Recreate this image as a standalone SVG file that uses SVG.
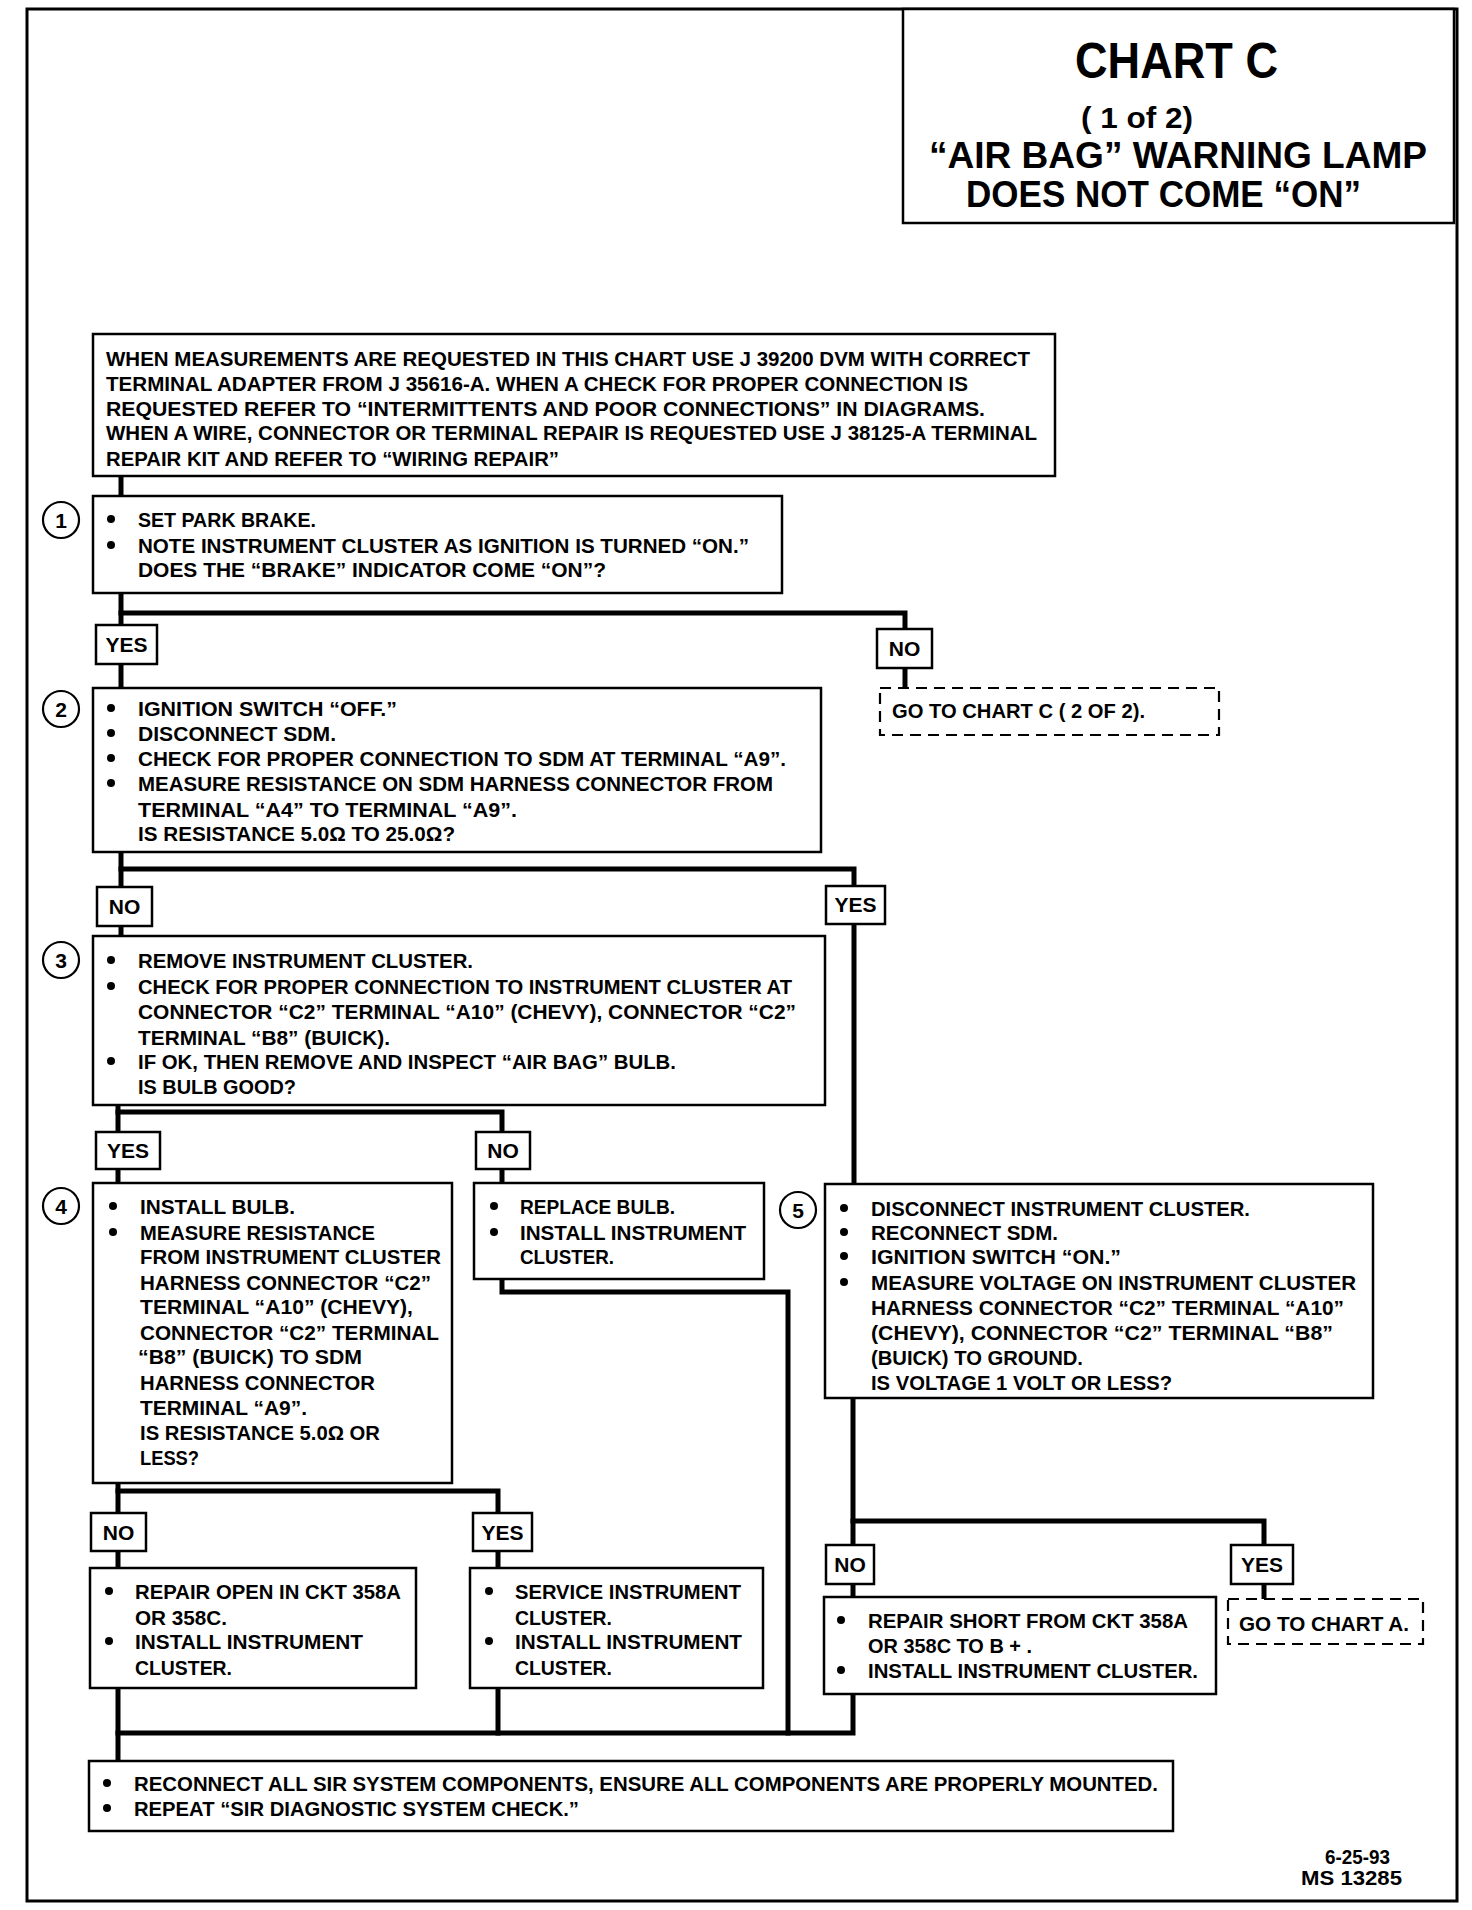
<svg xmlns="http://www.w3.org/2000/svg" width="1472" height="1910" viewBox="0 0 1472 1910">
<style>
.bg{fill:#fff}
.frame{fill:none;stroke:#000;stroke-width:3}
.box{fill:#fff;stroke:#000;stroke-width:2.5}
.dash{fill:#fff;stroke:#000;stroke-width:2.2;stroke-dasharray:11 7}
.conn{fill:none;stroke:#000;stroke-width:5;stroke-linecap:square;stroke-linejoin:miter}
.t{font-family:"Liberation Sans",Arial,sans-serif;font-weight:bold;font-size:21px;fill:#000}
.lbl{font-family:"Liberation Sans",Arial,sans-serif;font-weight:bold;font-size:21px;fill:#000;text-anchor:middle}
.num{font-family:"Liberation Sans",Arial,sans-serif;font-weight:bold;font-size:21px;fill:#000;text-anchor:middle}
.circ{fill:#fff;stroke:#000;stroke-width:2.2}
.dot{fill:#000}
.title{font-family:"Liberation Sans",Arial,sans-serif;font-weight:bold;fill:#000}
</style>
<rect class="bg" x="0" y="0" width="1472" height="1910"/>
<rect class="frame" x="27" y="9" width="1430" height="1892"/>

<g id="title">
<rect class="box" x="903" y="9" width="551" height="214"/>
<text class="title" x="1075" y="78" font-size="50" textLength="203" lengthAdjust="spacingAndGlyphs">CHART C</text>
<text class="title" x="1081" y="128" font-size="30" textLength="112" lengthAdjust="spacingAndGlyphs">( 1 of 2)</text>
<text class="title" x="929" y="168" font-size="37" textLength="498" lengthAdjust="spacingAndGlyphs">“AIR BAG” WARNING LAMP</text>
<text class="title" x="966" y="207" font-size="37" textLength="395" lengthAdjust="spacingAndGlyphs">DOES NOT COME “ON”</text>
</g>

<g id="connectors">
<path class="conn" d="M121 476 V496"/>
<path class="conn" d="M121 593 V625"/>
<path class="conn" d="M121 613 H905 V629"/>
<path class="conn" d="M121 664 V688"/>
<path class="conn" d="M905 668 V688"/>
<path class="conn" d="M121 852 V887"/>
<path class="conn" d="M121 869 H854 V886"/>
<path class="conn" d="M121 926 V936"/>
<path class="conn" d="M854 924 V1184"/>
<path class="conn" d="M118 1105 V1132"/>
<path class="conn" d="M118 1112 H502 V1132"/>
<path class="conn" d="M118 1169 V1183"/>
<path class="conn" d="M502 1169 V1183"/>
<path class="conn" d="M502 1279 V1292 H788 V1733"/>
<path class="conn" d="M118 1483 V1513"/>
<path class="conn" d="M118 1491 H498 V1513"/>
<path class="conn" d="M118 1551 V1568"/>
<path class="conn" d="M498 1551 V1568"/>
<path class="conn" d="M853 1398 V1545"/>
<path class="conn" d="M853 1521 H1264 V1545"/>
<path class="conn" d="M853 1584 V1597"/>
<path class="conn" d="M1264 1584 V1599"/>
<path class="conn" d="M853 1694 V1733 H118"/>
<path class="conn" d="M118 1688 V1761"/>
<path class="conn" d="M498 1688 V1733"/>
</g>

<g id="intro">
<rect class="box" x="93" y="334" width="962" height="142"/>
<text class="t" x="106" y="366" textLength="924" lengthAdjust="spacingAndGlyphs">WHEN MEASUREMENTS ARE REQUESTED IN THIS CHART USE J 39200 DVM WITH CORRECT</text>
<text class="t" x="106" y="391" textLength="862" lengthAdjust="spacingAndGlyphs">TERMINAL ADAPTER FROM J 35616-A.  WHEN A CHECK FOR PROPER CONNECTION IS</text>
<text class="t" x="106" y="416" textLength="879" lengthAdjust="spacingAndGlyphs">REQUESTED REFER TO “INTERMITTENTS AND POOR CONNECTIONS” IN  DIAGRAMS.</text>
<text class="t" x="106" y="440" textLength="931" lengthAdjust="spacingAndGlyphs">WHEN A WIRE, CONNECTOR OR TERMINAL REPAIR IS REQUESTED USE J 38125-A TERMINAL</text>
<text class="t" x="106" y="466" textLength="453" lengthAdjust="spacingAndGlyphs">REPAIR KIT AND REFER TO “WIRING REPAIR”</text>
</g>

<g id="step1">
<circle class="circ" cx="61" cy="520" r="18"/>
<text class="num" x="61" y="528">1</text>
<rect class="box" x="93" y="496" width="689" height="97"/>
<circle class="dot" cx="111" cy="519" r="4"/>
<circle class="dot" cx="111" cy="545" r="4"/>
<text class="t" x="138" y="527" textLength="178" lengthAdjust="spacingAndGlyphs">SET PARK BRAKE.</text>
<text class="t" x="138" y="553" textLength="611" lengthAdjust="spacingAndGlyphs">NOTE INSTRUMENT CLUSTER AS IGNITION IS TURNED “ON.”</text>
<text class="t" x="138" y="577" textLength="468" lengthAdjust="spacingAndGlyphs">DOES THE “BRAKE” INDICATOR COME “ON”?</text>
</g>

<g id="lbl-yes1"><rect class="box" x="96" y="625" width="61" height="39"/><text class="lbl" x="126.5" y="652">YES</text></g>
<g id="lbl-no1"><rect class="box" x="877" y="629" width="55" height="39"/><text class="lbl" x="904.5" y="656">NO</text></g>

<g id="goto-c2">
<rect class="dash" x="880" y="688" width="339" height="47"/>
<text class="t" x="892" y="718" textLength="253" lengthAdjust="spacingAndGlyphs">GO TO CHART C ( 2 OF 2).</text>
</g>

<g id="step2">
<circle class="circ" cx="61" cy="709" r="18"/>
<text class="num" x="61" y="717">2</text>
<rect class="box" x="93" y="688" width="728" height="164"/>
<circle class="dot" cx="111" cy="708" r="4"/>
<circle class="dot" cx="111" cy="733" r="4"/>
<circle class="dot" cx="111" cy="758" r="4"/>
<circle class="dot" cx="111" cy="783" r="4"/>
<text class="t" x="138" y="716" textLength="259" lengthAdjust="spacingAndGlyphs">IGNITION SWITCH “OFF.”</text>
<text class="t" x="138" y="741" textLength="198" lengthAdjust="spacingAndGlyphs">DISCONNECT SDM.</text>
<text class="t" x="138" y="766" textLength="648" lengthAdjust="spacingAndGlyphs">CHECK FOR PROPER CONNECTION TO SDM AT TERMINAL “A9”.</text>
<text class="t" x="138" y="791" textLength="635" lengthAdjust="spacingAndGlyphs">MEASURE RESISTANCE ON SDM HARNESS CONNECTOR FROM</text>
<text class="t" x="138" y="817" textLength="379" lengthAdjust="spacingAndGlyphs">TERMINAL “A4” TO TERMINAL “A9”.</text>
<text class="t" x="138" y="841" textLength="317" lengthAdjust="spacingAndGlyphs">IS RESISTANCE 5.0Ω TO 25.0Ω?</text>
</g>

<g id="lbl-no2"><rect class="box" x="97" y="887" width="55" height="39"/><text class="lbl" x="124.5" y="914">NO</text></g>
<g id="lbl-yes2"><rect class="box" x="826" y="886" width="59" height="38"/><text class="lbl" x="855.5" y="912">YES</text></g>

<g id="step3">
<circle class="circ" cx="61" cy="960" r="18"/>
<text class="num" x="61" y="968">3</text>
<rect class="box" x="93" y="936" width="732" height="169"/>
<circle class="dot" cx="111" cy="960" r="4"/>
<circle class="dot" cx="111" cy="986" r="4"/>
<circle class="dot" cx="111" cy="1061" r="4"/>
<text class="t" x="138" y="968" textLength="335" lengthAdjust="spacingAndGlyphs">REMOVE INSTRUMENT CLUSTER.</text>
<text class="t" x="138" y="994" textLength="654" lengthAdjust="spacingAndGlyphs">CHECK FOR PROPER CONNECTION TO INSTRUMENT CLUSTER AT</text>
<text class="t" x="138" y="1019" textLength="658" lengthAdjust="spacingAndGlyphs">CONNECTOR “C2” TERMINAL “A10” (CHEVY), CONNECTOR “C2”</text>
<text class="t" x="138" y="1045" textLength="252" lengthAdjust="spacingAndGlyphs">TERMINAL “B8” (BUICK).</text>
<text class="t" x="138" y="1069" textLength="538" lengthAdjust="spacingAndGlyphs">IF OK, THEN REMOVE AND INSPECT “AIR BAG” BULB.</text>
<text class="t" x="138" y="1094" textLength="158" lengthAdjust="spacingAndGlyphs">IS BULB GOOD?</text>
</g>

<g id="lbl-yes3"><rect class="box" x="96" y="1132" width="64" height="37"/><text class="lbl" x="128" y="1158">YES</text></g>
<g id="lbl-no3"><rect class="box" x="476" y="1132" width="54" height="37"/><text class="lbl" x="503" y="1158">NO</text></g>

<g id="step4">
<circle class="circ" cx="61" cy="1206" r="18"/>
<text class="num" x="61" y="1214">4</text>
<rect class="box" x="93" y="1183" width="359" height="300"/>
<circle class="dot" cx="113" cy="1206" r="4"/>
<circle class="dot" cx="113" cy="1232" r="4"/>
<text class="t" x="140" y="1214" textLength="155" lengthAdjust="spacingAndGlyphs">INSTALL BULB.</text>
<text class="t" x="140" y="1240" textLength="235" lengthAdjust="spacingAndGlyphs">MEASURE RESISTANCE</text>
<text class="t" x="140" y="1264" textLength="301" lengthAdjust="spacingAndGlyphs">FROM INSTRUMENT CLUSTER</text>
<text class="t" x="140" y="1290" textLength="291" lengthAdjust="spacingAndGlyphs">HARNESS CONNECTOR “C2”</text>
<text class="t" x="140" y="1314" textLength="273" lengthAdjust="spacingAndGlyphs">TERMINAL “A10” (CHEVY),</text>
<text class="t" x="140" y="1340" textLength="299" lengthAdjust="spacingAndGlyphs">CONNECTOR “C2” TERMINAL</text>
<text class="t" x="138" y="1364" textLength="224" lengthAdjust="spacingAndGlyphs">“B8” (BUICK) TO SDM</text>
<text class="t" x="140" y="1390" textLength="235" lengthAdjust="spacingAndGlyphs">HARNESS CONNECTOR</text>
<text class="t" x="140" y="1415" textLength="167" lengthAdjust="spacingAndGlyphs">TERMINAL “A9”.</text>
<text class="t" x="140" y="1440" textLength="240" lengthAdjust="spacingAndGlyphs">IS RESISTANCE 5.0Ω OR</text>
<text class="t" x="140" y="1465" textLength="59" lengthAdjust="spacingAndGlyphs">LESS?</text>
</g>

<g id="replace-bulb">
<rect class="box" x="474" y="1183" width="290" height="96"/>
<circle class="dot" cx="494" cy="1206" r="4"/>
<circle class="dot" cx="494" cy="1232" r="4"/>
<text class="t" x="520" y="1214" textLength="155" lengthAdjust="spacingAndGlyphs">REPLACE BULB.</text>
<text class="t" x="520" y="1240" textLength="226" lengthAdjust="spacingAndGlyphs">INSTALL INSTRUMENT</text>
<text class="t" x="520" y="1264" textLength="94" lengthAdjust="spacingAndGlyphs">CLUSTER.</text>
</g>

<g id="step5">
<circle class="circ" cx="798" cy="1210" r="18"/>
<text class="num" x="798" y="1218">5</text>
<rect class="box" x="825" y="1184" width="548" height="214"/>
<circle class="dot" cx="844" cy="1208" r="4"/>
<circle class="dot" cx="844" cy="1232" r="4"/>
<circle class="dot" cx="844" cy="1256" r="4"/>
<circle class="dot" cx="844" cy="1282" r="4"/>
<text class="t" x="871" y="1216" textLength="379" lengthAdjust="spacingAndGlyphs">DISCONNECT INSTRUMENT CLUSTER.</text>
<text class="t" x="871" y="1240" textLength="187" lengthAdjust="spacingAndGlyphs">RECONNECT SDM.</text>
<text class="t" x="871" y="1264" textLength="250" lengthAdjust="spacingAndGlyphs">IGNITION SWITCH “ON.”</text>
<text class="t" x="871" y="1290" textLength="485" lengthAdjust="spacingAndGlyphs">MEASURE VOLTAGE ON INSTRUMENT CLUSTER</text>
<text class="t" x="871" y="1315" textLength="473" lengthAdjust="spacingAndGlyphs">HARNESS CONNECTOR “C2” TERMINAL “A10”</text>
<text class="t" x="871" y="1340" textLength="462" lengthAdjust="spacingAndGlyphs">(CHEVY), CONNECTOR “C2” TERMINAL “B8”</text>
<text class="t" x="871" y="1365" textLength="212" lengthAdjust="spacingAndGlyphs">(BUICK) TO GROUND.</text>
<text class="t" x="871" y="1390" textLength="301" lengthAdjust="spacingAndGlyphs">IS VOLTAGE 1 VOLT OR LESS?</text>
</g>

<g id="lbl-no4"><rect class="box" x="91" y="1513" width="55" height="38"/><text class="lbl" x="118.5" y="1540">NO</text></g>
<g id="lbl-yes4"><rect class="box" x="473" y="1513" width="59" height="38"/><text class="lbl" x="502.5" y="1540">YES</text></g>
<g id="lbl-no5"><rect class="box" x="826" y="1545" width="48" height="39"/><text class="lbl" x="850" y="1572">NO</text></g>
<g id="lbl-yes5"><rect class="box" x="1231" y="1545" width="62" height="39"/><text class="lbl" x="1262" y="1572">YES</text></g>

<g id="repair-open">
<rect class="box" x="90" y="1568" width="326" height="120"/>
<circle class="dot" cx="109" cy="1591" r="4"/>
<circle class="dot" cx="109" cy="1641" r="4"/>
<text class="t" x="135" y="1599" textLength="266" lengthAdjust="spacingAndGlyphs">REPAIR OPEN IN CKT 358A</text>
<text class="t" x="135" y="1625" textLength="92" lengthAdjust="spacingAndGlyphs">OR 358C.</text>
<text class="t" x="135" y="1649" textLength="228" lengthAdjust="spacingAndGlyphs">INSTALL INSTRUMENT</text>
<text class="t" x="135" y="1675" textLength="97" lengthAdjust="spacingAndGlyphs">CLUSTER.</text>
</g>

<g id="service-cluster">
<rect class="box" x="470" y="1568" width="293" height="120"/>
<circle class="dot" cx="489" cy="1591" r="4"/>
<circle class="dot" cx="489" cy="1641" r="4"/>
<text class="t" x="515" y="1599" textLength="226" lengthAdjust="spacingAndGlyphs">SERVICE INSTRUMENT</text>
<text class="t" x="515" y="1625" textLength="97" lengthAdjust="spacingAndGlyphs">CLUSTER.</text>
<text class="t" x="515" y="1649" textLength="227" lengthAdjust="spacingAndGlyphs">INSTALL INSTRUMENT</text>
<text class="t" x="515" y="1675" textLength="97" lengthAdjust="spacingAndGlyphs">CLUSTER.</text>
</g>

<g id="repair-short">
<rect class="box" x="824" y="1597" width="392" height="97"/>
<circle class="dot" cx="841" cy="1620" r="4"/>
<circle class="dot" cx="841" cy="1670" r="4"/>
<text class="t" x="868" y="1628" textLength="320" lengthAdjust="spacingAndGlyphs">REPAIR SHORT FROM CKT 358A</text>
<text class="t" x="868" y="1653" textLength="164" lengthAdjust="spacingAndGlyphs">OR 358C TO B + .</text>
<text class="t" x="868" y="1678" textLength="330" lengthAdjust="spacingAndGlyphs">INSTALL INSTRUMENT CLUSTER.</text>
</g>

<g id="goto-a">
<rect class="dash" x="1228" y="1599" width="195" height="45"/>
<text class="t" x="1239" y="1631" textLength="170" lengthAdjust="spacingAndGlyphs">GO TO CHART A.</text>
</g>

<g id="final">
<rect class="box" x="89" y="1761" width="1084" height="70"/>
<circle class="dot" cx="107" cy="1783" r="4"/>
<circle class="dot" cx="107" cy="1808" r="4"/>
<text class="t" x="134" y="1791" textLength="1024" lengthAdjust="spacingAndGlyphs">RECONNECT ALL SIR SYSTEM COMPONENTS, ENSURE ALL COMPONENTS ARE PROPERLY MOUNTED.</text>
<text class="t" x="134" y="1816" textLength="445" lengthAdjust="spacingAndGlyphs">REPEAT “SIR DIAGNOSTIC SYSTEM CHECK.”</text>
</g>

<g id="footer">
<text class="t" x="1325" y="1864" textLength="65" lengthAdjust="spacingAndGlyphs">6-25-93</text>
<text class="t" x="1301" y="1885" textLength="101" lengthAdjust="spacingAndGlyphs">MS 13285</text>
</g>
</svg>
